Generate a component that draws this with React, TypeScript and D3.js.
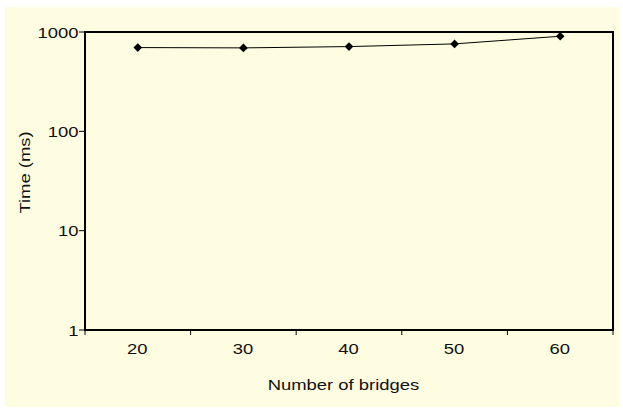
import React from "react";
import * as d3 from "d3";

const categories = ["20", "30", "40", "50", "60"];
const times = [697, 692, 713, 759, 906];
const yTickValues = [1, 10, 100, 1000];
const xTitle = "Number of bridges";
const yTitle = "Time (ms)";

const W = 623;
const H = 409;
const M = { left: 85, top: 32, right: 613, bottom: 330 };
const FONT = "'Liberation Sans', Arial, sans-serif";
const FS = 15.5;
const SX = 1.19;

function T({
  x,
  y,
  rot = 0,
  anchor,
  children,
}: {
  x: number;
  y: number;
  rot?: number;
  anchor: "start" | "middle" | "end";
  children: React.ReactNode;
}) {
  return (
    <text
      transform={`translate(${x},${y}) rotate(${rot}) scale(${SX},1)`}
      textAnchor={anchor}
      fontSize={FS}
      fill="#111"
    >
      {children}
    </text>
  );
}

export default function App() {
  const x = d3.scaleBand<string>().domain(categories).range([M.left, M.right]).padding(0);
  const y = d3.scaleLog().domain([1, 1000]).range([M.bottom, M.top]);
  const cx = (c: string) => (x(c) as number) + x.bandwidth() / 2;
  const line = d3
    .line<number>()
    .x((_, i) => cx(categories[i]))
    .y((d) => y(d));
  const marker = d3.symbol().type(d3.symbolSquare).size(38)() as string;
  const xBoundaries = [...categories.map((c) => x(c) as number), M.right];

  return (
    <svg
      width={W}
      height={H}
      style={{ position: "absolute", left: 0, top: 0, display: "block" }}
      fontFamily={FONT}
    >
      <rect x={0} y={0} width={W} height={H} fill="#ffffff" />
      <rect x={5} y={7} width={614} height={400} fill="#fefde1" />
      <rect
        x={M.left}
        y={M.top}
        width={M.right - M.left}
        height={M.bottom - M.top}
        fill="none"
        stroke="#000"
        strokeWidth={2}
      />
      {yTickValues.map((v) => (
        <g key={v}>
          <line x1={M.left - 6} x2={M.left} y1={y(v)} y2={y(v)} stroke="#000" strokeWidth={1} />
          <T x={M.left - 6.5} y={y(v) + 5.7} anchor="end">
            {v}
          </T>
        </g>
      ))}
      {xBoundaries.map((b, i) => (
        <line key={i} x1={b} x2={b} y1={M.bottom} y2={M.bottom + 5} stroke="#000" strokeWidth={1} />
      ))}
      {categories.map((c) => (
        <T key={c} x={cx(c) - 0.5} y={354} anchor="middle">
          {c}
        </T>
      ))}
      <path d={line(times) as string} fill="none" stroke="#000" strokeWidth={1} />
      {times.map((t, i) => (
        <path
          key={i}
          d={marker}
          transform={`translate(${cx(categories[i])},${y(t)}) rotate(45)`}
          fill="#000"
        />
      ))}
      <T x={343.5} y={390} anchor="middle">
        {xTitle}
      </T>
      <T x={30} y={172.5} rot={-90} anchor="middle">
        {yTitle}
      </T>
    </svg>
  );
}
